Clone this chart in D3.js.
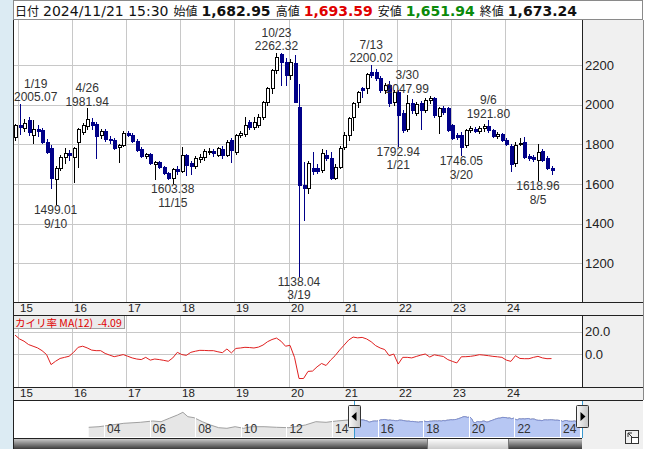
<!DOCTYPE html>
<html>
<head>
<meta charset="utf-8">
<script src="https://cdn.jsdelivr.net/npm/d3@7"></script>
<style>
body { margin: 0; background: #fff; }
svg { display: block; }
</style>
</head>
<body>
<svg id="chart" width="648" height="449"></svg>
<script>
// monthly candles, 2014/12 .. 2024/11
const opens = [1836,1898,1884,1922,1848,1880,1872,1814,1782,1626,
  1680,1736,1758,1738,1810,1864,1893,1915,1905,1848,
  1870,1828,1822,1787,1797,1858,1849,1818,1775,1741,
  1750,1700,1712,1686,1658,1630,1678,1664,1746,1704,
  1690,1727,1738,1766,1767,1747,1777,1747,1822,1760,
  1847,1851,1911,1889,1898,1940,2015,2082,2175,2254,
  2217,2150,2208,1990,1596,1579,1683,1683,1671,1745,
  1730,1633,1688,1789,1847,1940,2015,2082,2082,2166,
  2166,2133,2074,2099,2015,2066,1960,1880,2007,1960,
  2007,1973,2024,2032,1942,1982,1982,1898,1847,1847,
  1797,1873,1880,1868,1881,1893,1872,1843,1852,1820,
  1792,1705,1802,1814,1742,1735,1721,1767,1730,1682.95];
const highs = [1905,2005.07,1930,1938,1924,1899,1882,1826,1796,1690,
  1745,1782,1772,1786,1882,1908,1981.94,1935,1915,1880,
  1880,1840,1830,1800,1868,1866,1856,1825,1785,1758,
  1755,1716,1718,1692,1662,1680,1690,1788,1752,1715,
  1740,1752,1775,1780,1775,1786,1790,1820,1830,1852,
  1870,1938,1925,1938,1955,2020,2090,2180,2262.32,2260,
  2235,2230,2250,2105,1713,1715,1760,1700,1775,1770,
  1760,1700,1790,1860,1940,2015,2070,2090,2160,2200.02,
  2180,2145,2110,2120,2075,2075,1975,2047.99,2030,2012,
  2020,2035,2044,2038,1990,1995,1990,1905,1855,1860,
  1878,1895,1888,1895,1905,1921.80,1880,1860,1858,1830,
  1800,1810,1830,1838,1750,1745,1802,1775,1740,1693.59];
const lows = [1822,1852,1868,1848,1806,1840,1806,1757,1579,1499.01,
  1672,1706,1722,1610,1688,1850,1880,1880,1731,1830,
  1815,1805,1778,1711,1790,1840,1810,1768,1735,1730,
  1700,1626,1680,1650,1625,1603.38,1652,1660,1646,1650,
  1680,1712,1720,1752,1742,1740,1732,1740,1713,1750,
  1835,1840,1880,1880,1890,1930,2000,2060,2160,2100,
  2100,2130,2015,1138.04,1420,1555,1650,1655,1660,1720,
  1628,1625,1680,1775,1820,1875,1990,2040,2060,2140,
  2125,2065,2060,1995,2000,1792.94,1860,1865,1960,1950,
  1880,1965,2010,1940,1856,1955,1865,1825,1828,1746.05,
  1785,1860,1862,1855,1870,1860,1835,1830,1815,1795,
  1665,1690,1795,1730,1722,1715,1618.96,1718,1675,1651.94];
const closes = [1898,1886,1906,1864,1878,1870,1814,1764,1630,1680,
  1738,1758,1748,1782,1878,1898,1928,1900,1840,1868,
  1828,1826,1784,1797,1856,1849,1815,1773,1740,1751,
  1705,1712,1684,1655,1630,1676,1664,1746,1696,1693,
  1730,1738,1767,1767,1755,1780,1747,1814,1772,1847,
  1856,1898,1889,1911,1940,2015,2082,2175,2242,2217,
  2150,2217,2015,1596,1579,1705,1666,1668,1755,1730,
  1633,1688,1784,1847,1931,2007,2066,2074,2153,2150,
  2133,2074,2099,2007,2066,1948,1872,2007,1973,2005,
  1975,2024,2032,1948,1982,1965,1873,1831,1835,1789,
  1873,1881,1868,1885,1893,1872,1843,1852,1822,1800,
  1701,1797,1809,1738,1730,1725,1763,1722,1680,1673.24];

// カイリ率 MA(12), one value per month
const kairi = [17,13.5,11.5,8.5,7,5.5,3,-0.5,-9.5,-6.5,
  -4,-3,-2,1.5,6,7,5.5,3.5,3,3,
  0.5,-1,-2.4,-1.5,-0.5,-2,-3.5,-4.5,-5,-3,
  -5.5,-4.5,-5,-5.7,-6.5,-3.5,1.5,-0.5,-1.2,1.5,
  2.5,3.3,3.2,3,3,2,1.2,4.5,1,5,
  5.4,6,5.8,5.4,6.2,8,11,13,14.3,11.5,
  7,7.8,-3,-22,-22,-15.6,-15.3,-11.5,-8.5,-10.3,
  -5.5,-1.5,3.5,8,12.5,15.2,14.5,14.9,13.5,11,
  7.5,5.4,4,-1.5,0,-9,-3,-3,-3.5,-2.2,
  -1,0,-2.7,-0.7,-1.5,-2.2,-5,-6.6,-8,-2.5,
  -2.4,-2.1,-1.5,-0.6,-1,-1.5,-2.1,-2.5,-3,-5.5,
  -6.6,-1.5,-4,-4.2,-4.2,-3,-2.1,-3.5,-4.2,-4.09];

// labelled highs and lows: candle index, kind, date, value
const extremes = [
  [1, "high", "1/19", 2005.07],
  [9, "low", "9/10", 1499.01],
  [16, "high", "4/26", 1981.94],
  [35, "low", "11/15", 1603.38],
  [58, "high", "10/23", 2262.32],
  [63, "low", "3/19", 1138.04],
  [79, "high", "7/13", 2200.02],
  [85, "low", "1/21", 1792.94],
  [87, "high", "3/30", 2047.99],
  [99, "low", "3/20", 1746.05],
  [105, "high", "9/6", 1921.80],
  [116, "low", "8/5", 1618.96]
];

// long-term history shown in the navigator before 2014/12
const navYears = [2003.33,2003.78,2004.87,2005.59,2006.14,2006.5,2006.86,2007.22,2007.46,
  2007.68,2007.95,2008.31,2008.67,2009.03,2009.39,2009.75,2010.12,2010.48,2011.02,
  2011.57,2012.11,2012.83,2013.29,2013.74,2014.19,2014.73];
const navValues = [1067,1133,1507,1617,1760,1683,2057,2420,2717,
  2233,2123,1683,1320,1023,957,1133,957,1133,1133,
  1067,1023,1320,1683,1617,1760,1870];

const yearTicks = d3.range(2015, 2025);
const priceTicks = [1200, 1400, 1600, 1800, 2000, 2200];
const kairiTicks = [20, 0];
const navTickYears = d3.range(2004, 2025, 2);

const quoteDate = "2024/11/21 15:30";
const quoteLabels = ["始値", "高値", "安値", "終値"];
const quoteValues = [1682.95, 1693.59, 1651.94, 1673.24];
const quoteColors = ["#111", "#e00000", "#0a8a0a", "#111"];

// layout
const W = 648, H = 449;
const left = 13, right = 582, edge = 643;
const mainTop = 20, mainBottom = 302;
const indTop = 315, indBottom = 387;
const navTop = 400, navBottom = 438;
const upColor = "#000", downColor = "#000088", gridColor = "#c8c8c8", panelBg = "#f0f0f0";
const numFont = "'Liberation Sans', Arial, sans-serif";
const jpFont = "'Noto Sans CJK JP', sans-serif";

const svg = d3.select("#chart");
const defs = svg.append("defs");

// scales
const x = d3.scaleLinear().domain([0, 119]).range([15, 551.5]);
const y = d3.scaleLinear().domain([1006, 2426.7]).range([mainBottom, mainTop]);
const yk = d3.scaleLinear().domain([-29.6, 35]).range([indBottom, indTop]);
const navX = d3.scaleLinear().domain([2016, 2024]).range([377.6, 560]);
const navY = d3.scaleLinear().domain([0, 3300]).range([437, 407]);
const yearX = yr => Math.round(x(1 + 12 * (yr - 2015)) - 1.5) + 0.5;
const px = v => Math.round(v) + 0.5;

// backgrounds
svg.append("rect").attr("width", W).attr("height", H).attr("fill", "#fff");
svg.append("rect").attr("x", 0).attr("y", 0).attr("width", left).attr("height", H).attr("fill", "#dcebf3");
svg.append("rect").attr("x", right).attr("y", mainTop).attr("width", edge - right).attr("height", H - mainTop).attr("fill", panelBg);
[[mainBottom, indTop], [indBottom, navTop]].forEach(([a, b]) => {
  svg.append("rect").attr("x", left).attr("y", a).attr("width", edge - left).attr("height", b - a).attr("fill", panelBg);
});

// header
svg.append("rect").attr("x", left + 0.5).attr("y", 0.5).attr("width", edge - left - 1).attr("height", mainTop - 1)
  .attr("fill", "#fff").attr("stroke", "#8a8a8a");
const head = svg.append("text").attr("x", left + 2).attr("y", 15.5).attr("fill", "#111")
  .style("font-family", "'DejaVu Sans', Verdana, sans-serif").style("font-size", "14px");
head.append("tspan").style("font-family", jpFont).style("font-size", "12px").text("日付");
head.append("tspan").attr("dx", 4).text(quoteDate);
const fmt = d3.format(",.2f");
quoteLabels.forEach((lab, k) => {
  head.append("tspan").attr("dx", 5).style("font-family", jpFont).style("font-size", "12px").text(lab);
  head.append("tspan").attr("dx", 4).attr("fill", quoteColors[k]).style("font-weight", "bold").text(fmt(quoteValues[k]));
});

// grid
const grid = svg.append("g").attr("stroke", gridColor).attr("shape-rendering", "crispEdges");
yearTicks.forEach(yr => {
  grid.append("line").attr("x1", yearX(yr)).attr("x2", yearX(yr)).attr("y1", mainTop).attr("y2", mainBottom);
  grid.append("line").attr("x1", yearX(yr)).attr("x2", yearX(yr)).attr("y1", indTop).attr("y2", indBottom);
});
priceTicks.forEach(v => grid.append("line").attr("x1", left).attr("x2", right).attr("y1", px(y(v))).attr("y2", px(y(v))));
kairiTicks.forEach(v => grid.append("line").attr("x1", left).attr("x2", right).attr("y1", px(yk(v))).attr("y2", px(yk(v))));

// candles
const candles = d3.range(opens.length).map(i => ({
  i, o: opens[i], h: highs[i], l: lows[i], c: closes[i], up: closes[i] >= opens[i]
}));
const cg = svg.append("g").attr("shape-rendering", "crispEdges");
cg.selectAll("line").data(candles).join("line")
  .attr("x1", d => Math.round(x(d.i)) + 0.5).attr("x2", d => Math.round(x(d.i)) + 0.5)
  .attr("y1", d => Math.round(y(d.h))).attr("y2", d => Math.round(y(d.l)) + 1)
  .attr("stroke", d => d.up ? upColor : downColor);
cg.selectAll("rect").data(candles).join("rect")
  .attr("x", d => Math.round(x(d.i)) - 0.5)
  .attr("width", 3)
  .attr("y", d => px(y(Math.max(d.o, d.c))))
  .attr("height", d => Math.max(1, Math.round(y(Math.min(d.o, d.c))) - Math.round(y(Math.max(d.o, d.c)))))
  .attr("fill", d => d.up ? "#fff" : downColor)
  .attr("stroke", d => d.up ? upColor : downColor);

// high / low labels
const ag = svg.append("g").attr("fill", "#333").style("font-family", numFont).style("font-size", "12px")
  .attr("text-anchor", "middle");
extremes.forEach(([i, kind, date, value]) => {
  const valueBase = kind === "high" ? y(value) - 2.5 : y(value) + 10;
  const dateBase = kind === "high" ? valueBase - 13.5 : valueBase + 13.5;
  const tv = ag.append("text").attr("y", valueBase).text(value.toFixed(2));
  const td = ag.append("text").attr("y", dateBase).text(date);
  const w = tv.node().getComputedTextLength();
  const cx = Math.max(left + 1 + w / 2, Math.min(right - 1 - w / 2, x(i)));
  tv.attr("x", cx);
  td.attr("x", cx);
});

// price axis labels
const axisText = svg.append("g").attr("fill", "#222").style("font-family", numFont).style("font-size", "13px");
priceTicks.forEach(v => axisText.append("text").attr("x", right + 3).attr("y", y(v)).attr("dy", "0.36em").text(v));
kairiTicks.forEach(v => axisText.append("text").attr("x", right + 3).attr("y", yk(v)).attr("dy", "0.36em").text(v.toFixed(1)));

// year strips
[[mainBottom, indTop], [indBottom, navTop]].forEach(([a, b]) => {
  yearTicks.forEach(yr => {
    axisText.append("text").attr("x", yearX(yr) + 1.5).attr("y", b - 3.5)
      .style("font-size", "11.5px").text(String(yr).slice(2));
  });
});

// kairi line
svg.append("path").datum(kairi)
  .attr("fill", "none").attr("stroke", "#e02020").attr("stroke-width", 1)
  .attr("d", d3.line().x((d, i) => x(i)).y(d => yk(d)));

svg.append("rect").attr("x", left + 0.5).attr("y", indTop + 0.5).attr("width", 111).attr("height", 13)
  .attr("fill", "#ebebeb").attr("stroke", "#a0a0a0");
svg.append("text").attr("x", left + 2).attr("y", indTop + 11.5).attr("fill", "#e00000")
  .style("font-family", jpFont).style("font-size", "10.5px").style("white-space", "pre")
  .text("カイリ率 MA(12)  " + kairi[kairi.length - 1].toFixed(2));

// navigator
const monthYear = i => 2014 + (11 + i + 0.5) / 12;
const navSeries = navYears.map((t, k) => [t, navValues[k]])
  .concat(closes.map((c, i) => [monthYear(i), c]));
const navArea = d3.area().x(d => navX(d[0])).y0(navY(0)).y1(d => navY(d[1]));
const navLine = d3.line().x(d => navX(d[0])).y(d => navY(d[1]));
const selStart = navX(2015) - 0.5, selEnd = right;
defs.append("clipPath").attr("id", "sel").append("rect")
  .attr("x", selStart).attr("y", navTop).attr("width", selEnd - selStart).attr("height", navBottom - navTop);
svg.append("path").datum(navSeries).attr("d", navArea).attr("fill", "#e6e6e6");
svg.append("path").datum(navSeries).attr("d", navLine).attr("fill", "none").attr("stroke", "#a0a0a0");
svg.append("path").datum(navSeries).attr("d", navArea).attr("fill", "#b7c7f3").attr("clip-path", "url(#sel)");
svg.append("path").datum(navSeries).attr("d", navLine).attr("fill", "none").attr("stroke", "#7f8fd0").attr("clip-path", "url(#sel)");
const navG = svg.append("g");
navTickYears.forEach(yr => {
  navG.append("line").attr("x1", px(navX(yr))).attr("x2", px(navX(yr))).attr("y1", 404).attr("y2", navBottom)
    .attr("stroke", "#fff").attr("shape-rendering", "crispEdges");
  navG.append("text").attr("x", navX(yr) + 3).attr("y", 433).attr("fill", "#333")
    .style("font-family", numFont).style("font-size", "12px").text(String(yr).slice(2));
});
[selStart, selEnd].forEach(sx => {
  svg.append("line").attr("x1", px(sx)).attr("x2", px(sx)).attr("y1", navTop).attr("y2", navBottom)
    .attr("stroke", "#3a9ad0").attr("shape-rendering", "crispEdges");
});
const hg = defs.append("linearGradient").attr("id", "handle").attr("x1", 0).attr("x2", 1);
hg.append("stop").attr("offset", 0).attr("stop-color", "#fafafa");
hg.append("stop").attr("offset", 1).attr("stop-color", "#c4c4c4");
[[selStart, -1], [selEnd, 1]].forEach(([sx, dir]) => {
  const hx = Math.round(sx) - 6;
  svg.append("rect").attr("x", hx + 0.5).attr("y", 405.5).attr("width", 12).attr("height", 22).attr("rx", 1)
    .attr("fill", "url(#handle)").attr("stroke", "#333");
  const cx = hx + 6.5;
  svg.append("path").attr("fill", "#000")
    .attr("d", dir < 0 ? `M${cx - 3},416.5 L${cx + 2},412 L${cx + 2},421 Z` : `M${cx + 3},416.5 L${cx - 2},412 L${cx - 2},421 Z`);
});

// scrollbar
const sg = defs.append("linearGradient").attr("id", "bar").attr("x1", 0).attr("x2", 0).attr("y1", 0).attr("y2", 1);
sg.append("stop").attr("offset", 0).attr("stop-color", "#d6d6d6");
sg.append("stop").attr("offset", 1).attr("stop-color", "#3c3c3c");
const tg = defs.append("linearGradient").attr("id", "thumb").attr("x1", 0).attr("x2", 0).attr("y1", 0).attr("y2", 1);
tg.append("stop").attr("offset", 0).attr("stop-color", "#ffffff");
tg.append("stop").attr("offset", 1).attr("stop-color", "#c8c8c8");
svg.append("rect").attr("x", left).attr("y", navBottom).attr("width", right - left).attr("height", H - navBottom).attr("fill", "url(#bar)");
svg.append("rect").attr("x", 427.5).attr("y", navBottom + 0.5).attr("width", 81).attr("height", H - navBottom)
  .attr("fill", "url(#thumb)").attr("stroke", "#777");

// panel borders
const bg = svg.append("g").attr("stroke", "#222").attr("shape-rendering", "crispEdges");
[mainBottom, indTop, indBottom, navTop, navBottom].forEach(v => {
  bg.append("line").attr("x1", left).attr("x2", v === navBottom ? right : edge).attr("y1", v + 0.5).attr("y2", v + 0.5);
});
bg.append("line").attr("x1", left + 0.5).attr("x2", left + 0.5).attr("y1", mainTop).attr("y2", H);
[[mainTop, mainBottom], [indTop, indBottom]].forEach(([a, b]) => {
  bg.append("line").attr("x1", right + 0.5).attr("x2", right + 0.5).attr("y1", a).attr("y2", b);
});
bg.append("line").attr("x1", edge + 0.5).attr("x2", edge + 0.5).attr("y1", mainTop).attr("y2", navTop).attr("stroke", "#888");

// corner resize icon
const ic = svg.append("g").attr("fill", "none").attr("stroke", "#333");
ic.append("rect").attr("x", 625.5).attr("y", 430.5).attr("width", 13).attr("height", 13);
ic.append("rect").attr("x", 631.5).attr("y", 437.5).attr("width", 7).attr("height", 6).attr("fill", "#fff");
ic.append("path").attr("d", "M628,433 L633,438 M628,433 L628,437 M628,433 L632,433");
</script>
</body>
</html>
